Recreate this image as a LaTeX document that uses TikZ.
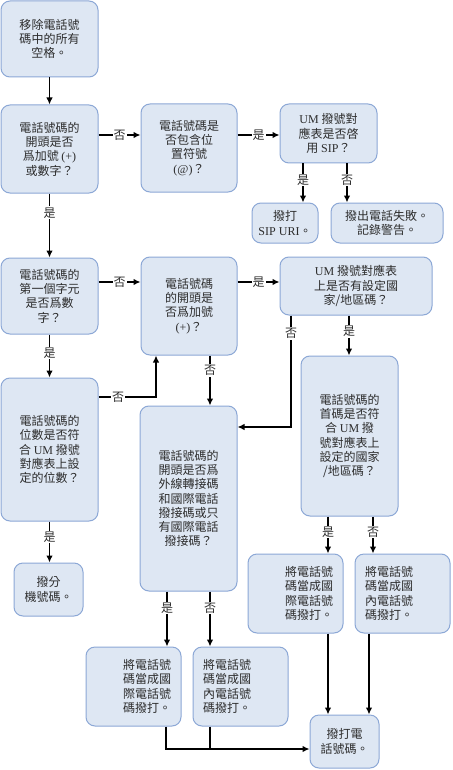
\documentclass[tikz,border=0pt]{standalone}
\usepackage{fontspec}
\setmainfont{Noto Sans CJK TC}
\newfontfamily\latfont{Liberation Serif}
\newcommand{\latn}[1]{{\latfont #1}}
\usetikzlibrary{arrows.meta}
\usetikzlibrary{calc}
\definecolor{boxfill}{RGB}{222,231,243}
\definecolor{boxline}{RGB}{140,168,214}
\definecolor{txt}{RGB}{45,45,45}
\tikzset{
  box/.style 2 args={draw=boxline,fill=boxfill,line width=1pt,rounded corners=9pt,
    minimum width=#1,minimum height=#2,align=center,text=txt,inner sep=0pt},
  conn/.style={line width=1.2pt},
  arr/.style={conn,-{Latex[length=7pt,width=6.5pt]}},
  lbl/.style={fill=white,inner sep=1pt,text=txt},
}

\begin{document}
\begin{tikzpicture}[x=1pt,y=-1pt,font=\fontsize{12}{14.3}\selectfont]
\path[use as bounding box,fill=white] (0,0) rectangle (452,770);
\node[box={97pt}{76pt}] (strip) at (49.5,39) {移除電話號\\碼中的所有\\空格。};
\node[box={97pt}{88pt}] (plusdig) at (49.5,149) {電話號碼的\\開頭是否\\爲加號 \latn{(+)}\\或數字？};
\node[box={96pt}{88pt}] (atsign) at (189,148) {電話號碼是\\否包含位\\置符號\\\latn{(@)}？};
\node[box={97pt}{59pt}] (sipon) at (328.5,133.5) {\latn{UM} 撥號對\\應表是否啓\\用 \latn{SIP}？};
\node[box={66pt}{40pt}] (sipuri) at (285,223) {撥打\\\latn{SIP URI}。};
\node[box={112pt}{40pt}] (fail) at (387,223) {撥出電話失敗。\\記錄警告。};
\node[box={97pt}{76pt}] (firstdig) at (49.5,296) {電話號碼的\\第一個字元\\是否爲數\\字？};
\node[box={96pt}{98pt}] (plus) at (189,306) {電話號碼\\的開頭是\\否爲加號\\\latn{(+)}？};
\node[box={152pt}{58pt}] (ccset) at (356,286) {\latn{UM} 撥號對應表\\上是否有設定國\\家/地區碼？};
\node[box={97pt}{143pt}] (ndigits) at (49.5,449.5) {電話號碼的\\位數是否符\\合 \latn{UM} 撥號\\對應表上設\\定的位數？};
\node[box={97pt}{185pt}] (prefix) at (188.5,498.5) {電話號碼的\\開頭是否爲\\外線轉接碼\\和國際電話\\撥接碼或只\\有國際電話\\撥接碼？};
\node[box={97pt}{160pt}] (ccmatch) at (349.5,436) {電話號碼的\\首碼是否符\\合 \latn{UM} 撥\\號對應表上\\設定的國家\\/地區碼？};
\node[box={69pt}{53pt}] (ext) at (48.5,589.5) {撥分\\機號碼。};
\node[box={95pt}{79pt},text width=75pt,align=right] (intlA) at (133.5,686.5) {將電話號\\碼當成國\\際電話號\\碼撥打。};
\node[box={95pt}{79pt},text width=75pt,align=left] (natA) at (240.5,686.5) {將電話號\\碼當成國\\內電話號\\碼撥打。};
\node[box={95pt}{79pt},text width=75pt,align=right] (intlB) at (295.5,593.5) {將電話號\\碼當成國\\際電話號\\碼撥打。};
\node[box={95pt}{79pt},text width=75pt,align=left] (natB) at (402.5,593.5) {將電話號\\碼當成國\\內電話號\\碼撥打。};
\node[box={69pt}{53pt}] (dial) at (344.5,741.5) {撥打電\\話號碼。};
\coordinate (join) at (210,749);

\draw[arr] (strip) -- (plusdig);
\draw[arr] (plusdig.east |- 0,135) -- node[lbl]{否} (atsign.west |- 0,135);
\draw[arr] (atsign.east |- 0,135) -- node[lbl]{是} (sipon.west |- 0,135);
\draw[arr] (sipon.south -| 303,0) -- node[lbl,pos=0.42]{是} (sipuri.north -| 303,0);
\draw[arr] (sipon.south -| 347,0) -- node[lbl,pos=0.42]{否} (fail.north -| 347,0);
\draw[arr] (plusdig) -- node[lbl,pos=0.3]{是} (firstdig);
\draw[arr] (firstdig.east |- 0,282) -- node[lbl]{否} (plus.west |- 0,282);
\draw[arr] (plus.east |- 0,282) -- node[lbl]{是} (ccset.west |- 0,282);
\draw[arr] (firstdig) -- node[lbl,pos=0.43]{是} (ndigits);
\draw[arr] (ndigits.east |- 0,397) -| node[lbl,pos=0.17]{否} (plus.south -| 156,0);
\draw[arr] (plus.south -| 210,0) -- node[lbl,pos=0.3]{否} (prefix.north -| 210,0);
\draw[arr] (ccset.south -| 349,0) -- node[lbl,pos=0.4]{是} (ccmatch.north -| 349,0);
\draw[arr] (ccset.south -| 291,0) |- node[lbl,pos=0.08]{否} (prefix.east |- 0,427);
\draw[arr] (ndigits.south) -- node[lbl,pos=0.38]{是} (ndigits.south |- ext.north);
\draw[arr] (prefix.south -| 167,0) -- node[lbl,pos=0.3]{是} (intlA.north -| 167,0);
\draw[arr] (prefix.south -| 210,0) -- node[lbl,pos=0.3]{否} (natA.north -| 210,0);
\draw[arr] (ccmatch.south -| 328,0) -- node[lbl,pos=0.42]{是} (intlB.north -| 328,0);
\draw[arr] (ccmatch.south -| 373,0) -- node[lbl,pos=0.42]{否} (natB.north -| 373,0);
\draw[arr] (intlB.south -| 328,0) -- (dial.north -| 328,0);
\draw[arr] (natB.south -| 369,0) -- (dial.north -| 369,0);
\draw[arr] (intlA.south -| 166,0) |- (dial.west |- join);
\draw[conn] (natA.south -| join) -- (join);
\end{tikzpicture}
\end{document}
